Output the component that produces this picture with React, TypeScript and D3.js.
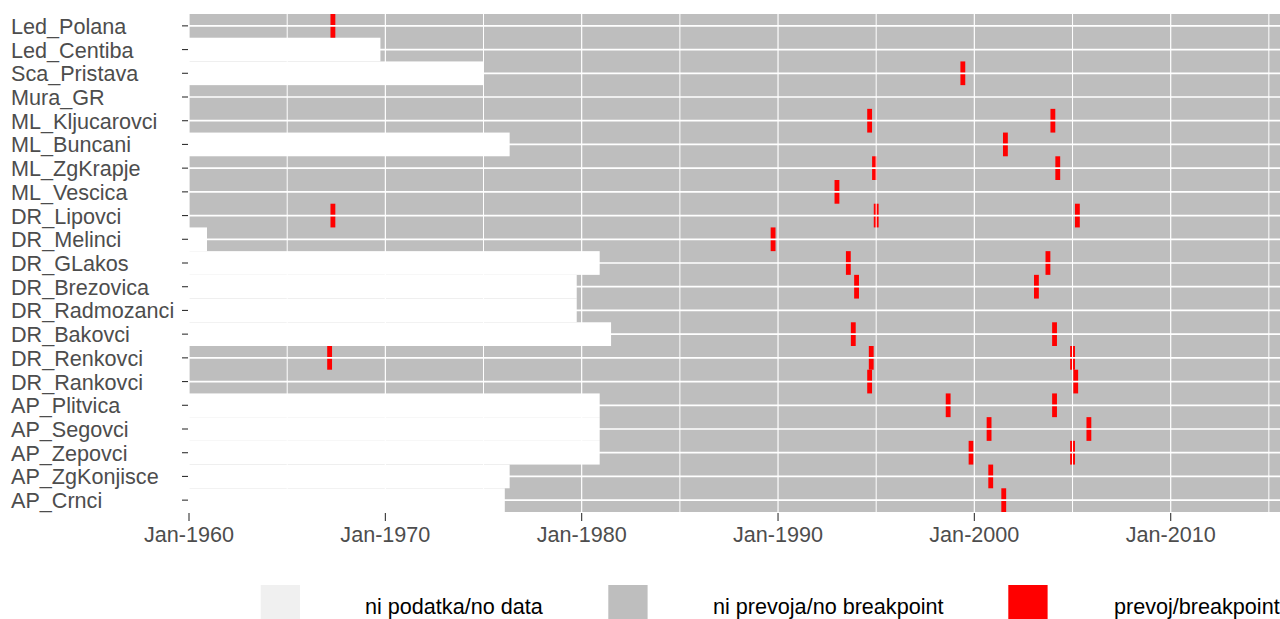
import React from "react";
import * as d3 from "d3";

// Stations, top to bottom
const stations = [
  "Led_Polana", "Led_Centiba", "Sca_Pristava", "Mura_GR", "ML_Kljucarovci",
  "ML_Buncani", "ML_ZgKrapje", "ML_Vescica", "DR_Lipovci", "DR_Melinci",
  "DR_GLakos", "DR_Brezovica", "DR_Radmozanci", "DR_Bakovci", "DR_Renkovci",
  "DR_Rankovci", "AP_Plitvica", "AP_Segovci", "AP_Zepovci", "AP_ZgKonjisce",
  "AP_Crnci",
];

// First month with data for each station (null = data from the start)
const dataStart: (string | null)[] = [
  null, "1969-10", "1975-01", null, null,
  "1976-05", null, null, null, "1960-12",
  "1980-12", "1979-10", "1979-10", "1981-07", null,
  null, "1980-12", "1980-12", "1980-12", "1976-05",
  "1976-02",
];

// Detected breakpoints (year-month) per station
const breakpoints: string[][] = [
  ["1967-05"],
  [],
  ["1999-06"],
  [],
  ["1994-09", "2004-01"],
  ["2001-08"],
  ["1994-12", "2004-04"],
  ["1993-01"],
  ["1967-05", "1995-01", "2005-04"],
  ["1989-10"],
  ["1993-08", "2003-10"],
  ["1994-01", "2003-03"],
  [],
  ["1993-11", "2004-02"],
  ["1967-03", "1994-10", "2005-01"],
  ["1994-09", "2005-03"],
  ["1998-09", "2004-02"],
  ["2000-10", "2005-11"],
  ["1999-11", "2005-01"],
  ["2000-11"],
  ["2001-07"],
];

const xTickYears = [1960, 1970, 1980, 1990, 2000, 2010];
const minorYears = [1965, 1975, 1985, 1995, 2005, 2015];

const legendItems = [
  { label: "ni podatka/no data", color: "#F0F0F0" },
  { label: "ni prevoja/no breakpoint", color: "#BEBEBE" },
  { label: "prevoj/breakpoint", color: "#FF0000" },
];

const W = 1280;
const H = 619;
const panel = { left: 189, top: 14, bottom: 512, right: 1280 };
const FONT = "'Liberation Sans', Arial, sans-serif";
const FS = 21.6;

const parseYM = d3.timeParse("%Y-%m");
const fmt = d3.timeFormat("%b-%Y");

export default function App() {
  const x = d3
    .scaleTime()
    .domain([new Date(1960, 0, 1), new Date(2010, 0, 1)])
    .range([panel.left, 1170.7]);
  const y = d3
    .scaleBand<string>()
    .domain(stations)
    .range([panel.top, panel.bottom])
    .padding(0);
  const bw = y.bandwidth();

  return (
    <svg
      width={W}
      height={H}
      style={{ position: "absolute", left: 0, top: 0, background: "#fff" }}
      fontFamily={FONT}
    >
      <defs>
        <clipPath id="panelClip">
          <rect x={panel.left} y={panel.top} width={panel.right - panel.left} height={panel.bottom - panel.top} />
        </clipPath>
      </defs>
      <g clipPath="url(#panelClip)">
        {/* series without a breakpoint */}
        <rect
          x={panel.left}
          y={panel.top}
          width={panel.right - panel.left}
          height={panel.bottom - panel.top}
          fill="#BEBEBE"
        />
        {/* months without data */}
        {stations.map((s, i) => {
          const st = dataStart[i];
          if (!st) return null;
          const x1 = x(parseYM(st)!);
          return (
            <rect key={"nd" + s} x={panel.left} y={y(s)!} width={x1 - panel.left} height={bw} fill="#FFFFFF" />
          );
        })}
        {/* breakpoints */}
        {stations.map((s, i) =>
          breakpoints[i].map((b) => {
            const d = parseYM(b)!;
            const x0 = x(d3.timeDay.offset(d, -45));
            const x1 = x(d3.timeDay.offset(d, 45));
            return <rect key={s + b} x={x0} y={y(s)!} width={x1 - x0} height={bw} fill="#FF0000" />;
          })
        )}
        {/* grid lines */}
        {minorYears.map((yr) => {
          const xx = x(new Date(yr, 0, 1));
          return <line key={"mi" + yr} x1={xx} x2={xx} y1={panel.top} y2={panel.bottom} stroke="#fff" strokeWidth={1} />;
        })}
        {xTickYears.map((yr) => {
          const xx = x(new Date(yr, 0, 1));
          return <line key={"ma" + yr} x1={xx} x2={xx} y1={panel.top} y2={panel.bottom} stroke="#fff" strokeWidth={1.2} />;
        })}
        {stations.map((s) => {
          const yy = y(s)! + bw / 2;
          return <line key={"h" + s} x1={panel.left} x2={panel.right} y1={yy} y2={yy} stroke="#fff" strokeWidth={1.7} />;
        })}
      </g>

      {/* y axis */}
      {stations.map((s) => {
        const yy = y(s)! + bw / 2;
        return (
          <g key={"ya" + s}>
            <line x1={182} x2={188} y1={yy} y2={yy} stroke="#333333" strokeWidth={1.1} />
            <text x={11} y={yy + 8} fontSize={FS} fill="#4D4D4D">
              {s}
            </text>
          </g>
        );
      })}

      {/* x axis */}
      {xTickYears.map((yr) => {
        const d = new Date(yr, 0, 1);
        const xx = x(d);
        return (
          <g key={"xa" + yr}>
            <line x1={xx} x2={xx} y1={513} y2={521} stroke="#333333" strokeWidth={1.1} />
            <text x={xx} y={541.5} fontSize={FS} fill="#4D4D4D" textAnchor="middle">
              {fmt(d)}
            </text>
          </g>
        );
      })}

      {/* legend */}
      {legendItems.map((it, i) => {
        const kx = [260.7, 608.3, 1008.3][i];
        const tx = [365, 713, 1114][i];
        return (
          <g key={it.label}>
            <rect x={kx} y={585} width={39.3} height={40} fill={it.color} />
            <text x={tx} y={614} fontSize={FS} fill="#000000">
              {it.label}
            </text>
          </g>
        );
      })}
    </svg>
  );
}
